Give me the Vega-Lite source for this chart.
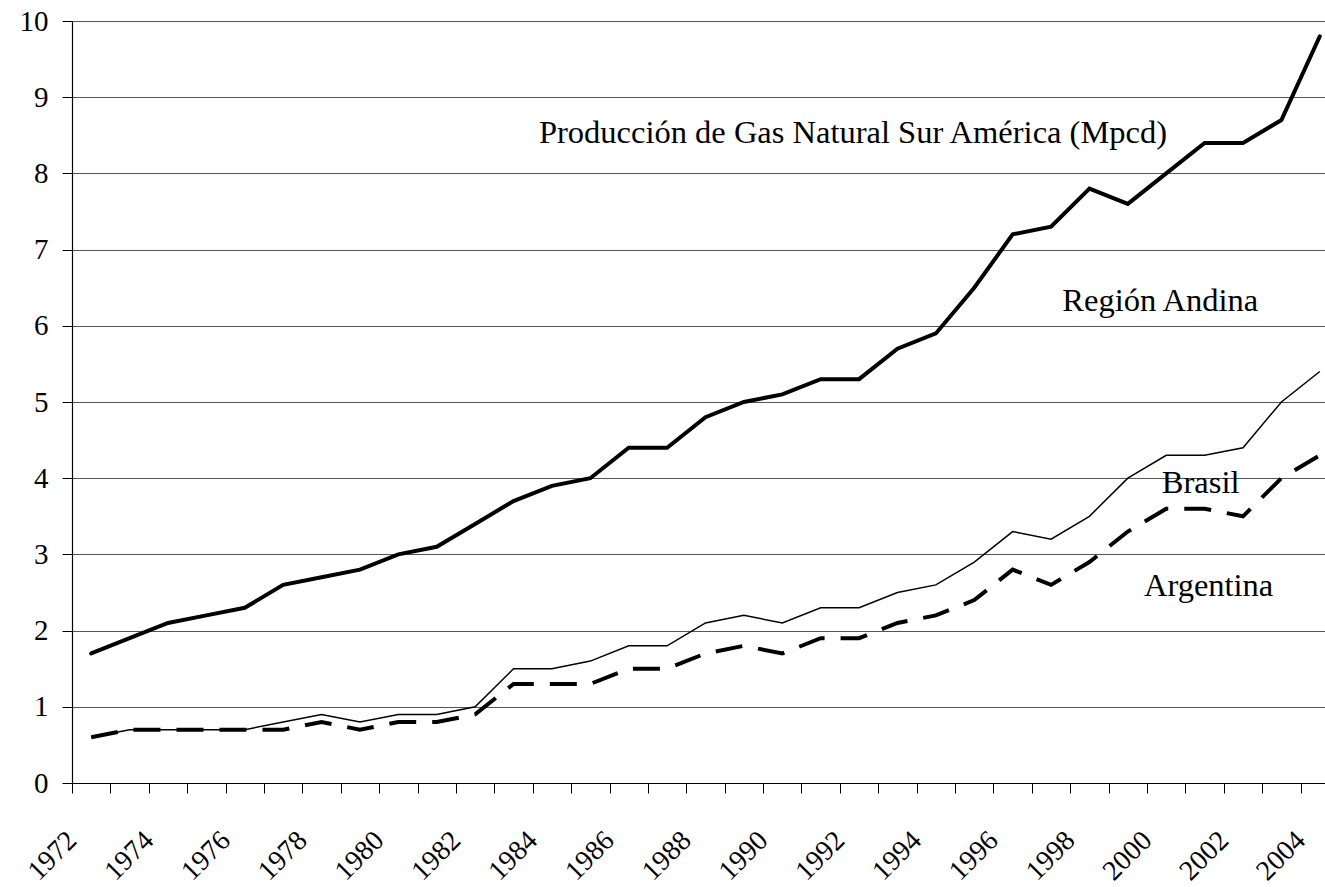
{
  "$schema": "https://vega.github.io/schema/vega-lite/v6.json",
  "autosize": {"type": "none"},
  "width": 1253,
  "height": 762,
  "padding": {"left": 72, "top": 21, "right": 0, "bottom": 104},
  "background": "white",
  "config": {
    "view": {"stroke": null},
    "font": "Liberation Serif"
  },
  "datasets": {
    "series": [
      {"year": 1972, "series": "Total", "value": 1.7},
      {"year": 1973, "series": "Total", "value": 1.9},
      {"year": 1974, "series": "Total", "value": 2.1},
      {"year": 1975, "series": "Total", "value": 2.2},
      {"year": 1976, "series": "Total", "value": 2.3},
      {"year": 1977, "series": "Total", "value": 2.6},
      {"year": 1978, "series": "Total", "value": 2.7},
      {"year": 1979, "series": "Total", "value": 2.8},
      {"year": 1980, "series": "Total", "value": 3.0},
      {"year": 1981, "series": "Total", "value": 3.1},
      {"year": 1982, "series": "Total", "value": 3.4},
      {"year": 1983, "series": "Total", "value": 3.7},
      {"year": 1984, "series": "Total", "value": 3.9},
      {"year": 1985, "series": "Total", "value": 4.0},
      {"year": 1986, "series": "Total", "value": 4.4},
      {"year": 1987, "series": "Total", "value": 4.4},
      {"year": 1988, "series": "Total", "value": 4.8},
      {"year": 1989, "series": "Total", "value": 5.0},
      {"year": 1990, "series": "Total", "value": 5.1},
      {"year": 1991, "series": "Total", "value": 5.3},
      {"year": 1992, "series": "Total", "value": 5.3},
      {"year": 1993, "series": "Total", "value": 5.7},
      {"year": 1994, "series": "Total", "value": 5.9},
      {"year": 1995, "series": "Total", "value": 6.5},
      {"year": 1996, "series": "Total", "value": 7.2},
      {"year": 1997, "series": "Total", "value": 7.3},
      {"year": 1998, "series": "Total", "value": 7.8},
      {"year": 1999, "series": "Total", "value": 7.6},
      {"year": 2000, "series": "Total", "value": 8.0},
      {"year": 2001, "series": "Total", "value": 8.4},
      {"year": 2002, "series": "Total", "value": 8.4},
      {"year": 2003, "series": "Total", "value": 8.7},
      {"year": 2004, "series": "Total", "value": 9.8},
      {"year": 1972, "series": "Argentina + Brasil", "value": 0.6},
      {"year": 1973, "series": "Argentina + Brasil", "value": 0.7},
      {"year": 1974, "series": "Argentina + Brasil", "value": 0.7},
      {"year": 1975, "series": "Argentina + Brasil", "value": 0.7},
      {"year": 1976, "series": "Argentina + Brasil", "value": 0.7},
      {"year": 1977, "series": "Argentina + Brasil", "value": 0.8},
      {"year": 1978, "series": "Argentina + Brasil", "value": 0.9},
      {"year": 1979, "series": "Argentina + Brasil", "value": 0.8},
      {"year": 1980, "series": "Argentina + Brasil", "value": 0.9},
      {"year": 1981, "series": "Argentina + Brasil", "value": 0.9},
      {"year": 1982, "series": "Argentina + Brasil", "value": 1.0},
      {"year": 1983, "series": "Argentina + Brasil", "value": 1.5},
      {"year": 1984, "series": "Argentina + Brasil", "value": 1.5},
      {"year": 1985, "series": "Argentina + Brasil", "value": 1.6},
      {"year": 1986, "series": "Argentina + Brasil", "value": 1.8},
      {"year": 1987, "series": "Argentina + Brasil", "value": 1.8},
      {"year": 1988, "series": "Argentina + Brasil", "value": 2.1},
      {"year": 1989, "series": "Argentina + Brasil", "value": 2.2},
      {"year": 1990, "series": "Argentina + Brasil", "value": 2.1},
      {"year": 1991, "series": "Argentina + Brasil", "value": 2.3},
      {"year": 1992, "series": "Argentina + Brasil", "value": 2.3},
      {"year": 1993, "series": "Argentina + Brasil", "value": 2.5},
      {"year": 1994, "series": "Argentina + Brasil", "value": 2.6},
      {"year": 1995, "series": "Argentina + Brasil", "value": 2.9},
      {"year": 1996, "series": "Argentina + Brasil", "value": 3.3},
      {"year": 1997, "series": "Argentina + Brasil", "value": 3.2},
      {"year": 1998, "series": "Argentina + Brasil", "value": 3.5},
      {"year": 1999, "series": "Argentina + Brasil", "value": 4.0},
      {"year": 2000, "series": "Argentina + Brasil", "value": 4.3},
      {"year": 2001, "series": "Argentina + Brasil", "value": 4.3},
      {"year": 2002, "series": "Argentina + Brasil", "value": 4.4},
      {"year": 2003, "series": "Argentina + Brasil", "value": 5.0},
      {"year": 2004, "series": "Argentina + Brasil", "value": 5.4},
      {"year": 1972, "series": "Argentina", "value": 0.6},
      {"year": 1973, "series": "Argentina", "value": 0.7},
      {"year": 1974, "series": "Argentina", "value": 0.7},
      {"year": 1975, "series": "Argentina", "value": 0.7},
      {"year": 1976, "series": "Argentina", "value": 0.7},
      {"year": 1977, "series": "Argentina", "value": 0.7},
      {"year": 1978, "series": "Argentina", "value": 0.8},
      {"year": 1979, "series": "Argentina", "value": 0.7},
      {"year": 1980, "series": "Argentina", "value": 0.8},
      {"year": 1981, "series": "Argentina", "value": 0.8},
      {"year": 1982, "series": "Argentina", "value": 0.9},
      {"year": 1983, "series": "Argentina", "value": 1.3},
      {"year": 1984, "series": "Argentina", "value": 1.3},
      {"year": 1985, "series": "Argentina", "value": 1.3},
      {"year": 1986, "series": "Argentina", "value": 1.5},
      {"year": 1987, "series": "Argentina", "value": 1.5},
      {"year": 1988, "series": "Argentina", "value": 1.7},
      {"year": 1989, "series": "Argentina", "value": 1.8},
      {"year": 1990, "series": "Argentina", "value": 1.7},
      {"year": 1991, "series": "Argentina", "value": 1.9},
      {"year": 1992, "series": "Argentina", "value": 1.9},
      {"year": 1993, "series": "Argentina", "value": 2.1},
      {"year": 1994, "series": "Argentina", "value": 2.2},
      {"year": 1995, "series": "Argentina", "value": 2.4},
      {"year": 1996, "series": "Argentina", "value": 2.8},
      {"year": 1997, "series": "Argentina", "value": 2.6},
      {"year": 1998, "series": "Argentina", "value": 2.9},
      {"year": 1999, "series": "Argentina", "value": 3.3},
      {"year": 2000, "series": "Argentina", "value": 3.6},
      {"year": 2001, "series": "Argentina", "value": 3.6},
      {"year": 2002, "series": "Argentina", "value": 3.5},
      {"year": 2003, "series": "Argentina", "value": 4.0},
      {"year": 2004, "series": "Argentina", "value": 4.3}
    ],
    "labels": [
      {"label": "Producción de Gas Natural Sur América (Mpcd)", "year": 1984, "value": 8.4},
      {"label": "Región Andina", "year": 2000, "value": 6.19},
      {"label": "Brasil", "year": 2001, "value": 3.81},
      {"label": "Argentina", "year": 2001, "value": 2.46}
    ]
  },
  "encoding": {
    "x": {
      "field": "year",
      "type": "ordinal",
      "sort": "ascending",
      "scale": {"type": "band", "paddingInner": 0, "paddingOuter": 0, "range": [0, 1267]},
      "axis": {
        "title": null,
        "domainColor": "black",
        "domainWidth": 1.2,
        "tickBand": "extent",
        "tickColor": "black",
        "tickSize": 10,
        "tickWidth": 1,
        "grid": false,
        "labelExpr": "datum.value % 2 == 0 ? datum.label : ''",
        "labelAngle": -45,
        "labelAlign": "right",
        "labelBaseline": "top",
        "labelOffset": -29,
        "labelPadding": 33,
        "labelFont": "Liberation Serif",
        "labelFontSize": 28,
        "labelColor": "black",
        "labelOverlap": false,
        "labelBound": false,
        "labelFlush": false
      }
    },
    "y": {
      "field": "value",
      "type": "quantitative",
      "scale": {"domain": [0, 10], "nice": false, "zero": true},
      "axis": {
        "title": null,
        "values": [0, 1, 2, 3, 4, 5, 6, 7, 8, 9, 10],
        "domainColor": "black",
        "domainWidth": 1.2,
        "tickColor": "black",
        "tickSize": 10,
        "tickWidth": 1,
        "grid": true,
        "gridColor": "#555555",
        "gridWidth": 1,
        "labelFont": "Liberation Serif",
        "labelFontSize": 29,
        "labelColor": "black",
        "labelPadding": 14,
        "labelOverlap": false,
        "labelFlush": false
      }
    }
  },
  "layer": [
    {
      "data": {"name": "series"},
      "transform": [{"filter": "datum.series == 'Argentina + Brasil'"}],
      "mark": {"type": "line", "color": "black", "strokeWidth": 1.5, "strokeJoin": "miter"}
    },
    {
      "data": {"name": "series"},
      "transform": [{"filter": "datum.series == 'Argentina'"}],
      "mark": {"type": "line", "color": "black", "strokeWidth": 4, "strokeDash": [27, 16], "strokeCap": "butt", "strokeJoin": "miter"}
    },
    {
      "data": {"name": "series"},
      "transform": [{"filter": "datum.series == 'Total'"}],
      "mark": {"type": "line", "color": "black", "strokeWidth": 4, "strokeCap": "round", "strokeJoin": "miter"}
    },
    {
      "data": {"name": "labels"},
      "transform": [{"filter": "datum.label == 'Producción de Gas Natural Sur América (Mpcd)'"}],
      "mark": {"type": "text", "align": "left", "baseline": "alphabetic", "dx": -13, "font": "Liberation Serif", "fontSize": 32.5, "color": "black"},
      "encoding": {"text": {"field": "label"}}
    },
    {
      "data": {"name": "labels"},
      "transform": [{"filter": "datum.label == 'Región Andina'"}],
      "mark": {"type": "text", "align": "center", "baseline": "alphabetic", "dx": -6, "font": "Liberation Serif", "fontSize": 32.5, "color": "black"},
      "encoding": {"text": {"field": "label"}}
    },
    {
      "data": {"name": "labels"},
      "transform": [{"filter": "datum.label == 'Brasil'"}],
      "mark": {"type": "text", "align": "center", "baseline": "alphabetic", "dx": -4, "font": "Liberation Serif", "fontSize": 32.5, "color": "black"},
      "encoding": {"text": {"field": "label"}}
    },
    {
      "data": {"name": "labels"},
      "transform": [{"filter": "datum.label == 'Argentina'"}],
      "mark": {"type": "text", "align": "center", "baseline": "alphabetic", "dx": 4, "font": "Liberation Serif", "fontSize": 32.5, "color": "black"},
      "encoding": {"text": {"field": "label"}}
    }
  ]
}
